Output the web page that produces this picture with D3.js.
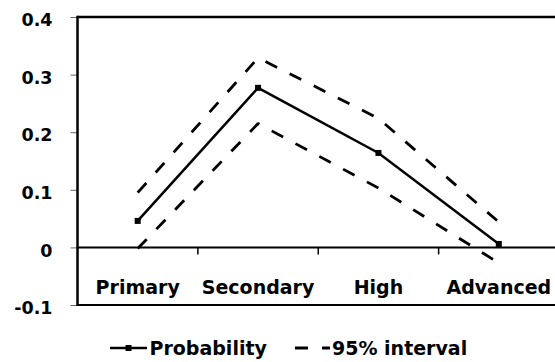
<!DOCTYPE html>
<html>
<head>
<meta charset="utf-8">
<script src="https://cdn.jsdelivr.net/npm/d3@7"></script>
<style>
  html, body { margin: 0; padding: 0; background: #fff; }
  svg { display: block; }
  text { font-family: "DejaVu Sans", sans-serif; font-weight: bold; fill: #000; }
</style>
</head>
<body>
<svg id="chart" width="555" height="362"></svg>
<script>
const categories = ["Primary", "Secondary", "High", "Advanced"];
const probability = [0.046, 0.277, 0.164, 0.006];
const upper95 = [0.095, 0.329, 0.224, 0.044];
const lower95 = [-0.002, 0.215, 0.103, -0.027];
const yTickValues = [-0.1, 0, 0.1, 0.2, 0.3, 0.4];
const yTickLabels = ["-0.1", "0", "0.1", "0.2", "0.3", "0.4"];
const legendLabels = ["Probability", "95% interval"];

const svg = d3.select("#chart");
const plotLeft = 77.5, plotRight = 559, plotTop = 17, plotBottom = 305;

const x = d3.scaleBand().domain(categories).range([plotLeft, plotRight]).padding(0);
const y = d3.scaleLinear().domain([-0.1, 0.4]).range([plotBottom, plotTop]);
const cx = c => x(c) + x.bandwidth() / 2;

// Y axis ticks and labels
const yAxis = d3.axisLeft(y)
  .tickValues(yTickValues)
  .tickFormat((d, i) => yTickLabels[i])
  .tickSize(7)
  .tickPadding(18);
const gy = svg.append("g").attr("transform", `translate(${plotLeft},0)`).call(yAxis);
gy.select(".domain").remove();
gy.selectAll(".tick line").attr("stroke", "#666").attr("stroke-width", 1);
gy.selectAll(".tick text")
  .style("font-size", "17.5px")
  .style("font-family", "DejaVu Sans")
  .style("font-weight", "bold")
  .attr("dy", "0.5em");

// Frame: top, left, bottom
svg.append("line").attr("x1", plotLeft).attr("x2", 555).attr("y1", y(0.4)).attr("y2", y(0.4))
  .attr("stroke", "#000").attr("stroke-width", 2.5);
svg.append("line").attr("x1", plotLeft).attr("x2", 555).attr("y1", y(-0.1)).attr("y2", y(-0.1))
  .attr("stroke", "#000").attr("stroke-width", 2);
svg.append("line").attr("x1", plotLeft).attr("x2", plotLeft).attr("y1", y(0.4) - 1.2).attr("y2", y(-0.1) + 1)
  .attr("stroke", "#000").attr("stroke-width", 2.5);

// X axis at y = 0
const xAxis = d3.axisBottom(x).tickSize(0).tickPadding(0);
const gx = svg.append("g").attr("transform", `translate(0,${y(0)})`).call(xAxis);
gx.select(".domain").remove();
gx.selectAll(".tick text")
  .style("font-size", "19px")
  .style("font-family", "DejaVu Sans")
  .style("font-weight", "bold")
  .attr("y", 46.5)
  .attr("dy", 0);
svg.append("line").attr("x1", plotLeft).attr("x2", 555).attr("y1", y(0)).attr("y2", y(0))
  .attr("stroke", "#000").attr("stroke-width", 2);
// boundary tick marks
svg.selectAll(".bt").data(categories.slice(1)).enter().append("line")
  .attr("class", "bt")
  .attr("x1", d => x(d)).attr("x2", d => x(d))
  .attr("y1", y(0)).attr("y2", y(0) + 7)
  .attr("stroke", "#000").attr("stroke-width", 1.5);

const line = d3.line().x((d, i) => cx(categories[i])).y(d => y(d));

// Dashed interval lines
[upper95, lower95].forEach(arr => {
  svg.append("path").datum(arr).attr("d", line)
    .attr("fill", "none").attr("stroke", "#000").attr("stroke-width", 2.8)
    .attr("stroke-dasharray", "13,14").attr("stroke-linejoin", "round");
});

// Probability line
svg.append("path").datum(probability).attr("d", line)
  .attr("fill", "none").attr("stroke", "#000").attr("stroke-width", 2.5);
svg.selectAll(".mk").data(probability).enter().append("rect")
  .attr("class", "mk")
  .attr("x", (d, i) => cx(categories[i]) - 3).attr("y", d => y(d) - 3)
  .attr("width", 6).attr("height", 6).attr("fill", "#000");

// Legend
const lg = svg.append("g");
lg.append("line").attr("x1", 110).attr("x2", 147).attr("y1", 348).attr("y2", 348)
  .attr("stroke", "#000").attr("stroke-width", 2.5);
lg.append("rect").attr("x", 125.5).attr("y", 345).attr("width", 6).attr("height", 6).attr("fill", "#000");
lg.append("text").attr("x", 149.5).attr("y", 355).style("font-size", "19px").text(legendLabels[0]);
lg.append("line").attr("x1", 295).attr("x2", 330).attr("y1", 348).attr("y2", 348)
  .attr("stroke", "#000").attr("stroke-width", 2.8).attr("stroke-dasharray", "13,14");
lg.append("text").attr("x", 332).attr("y", 355).style("font-size", "19px").text(legendLabels[1]);
</script>
</body>
</html>
